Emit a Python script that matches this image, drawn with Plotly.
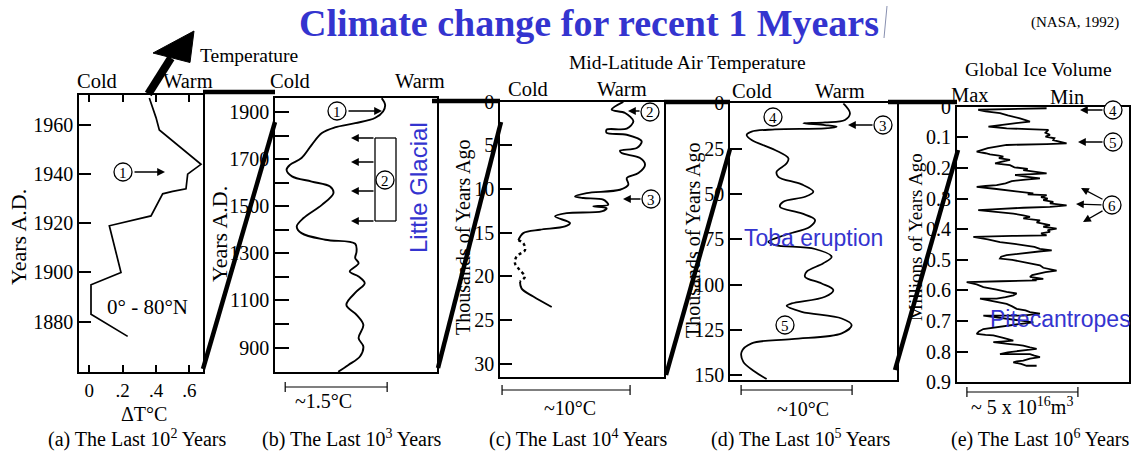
import plotly.graph_objects as go

W, H = 1140, 463

# ---------------- data ----------------
# (a) last 100 years : Delta T (deg C) vs year AD
a_year = [1874, 1883, 1895, 1900, 1919, 1923, 1932, 1933, 1934, 1940, 1941, 1944, 1958, 1963, 1971]
a_dT = [0.23, 0.01, 0.01, 0.19, 0.12, 0.37, 0.44, 0.50, 0.58, 0.59, 0.61, 0.67, 0.42, 0.40, 0.36]
a_ticks = [0, 0.2, 0.4, 0.6]
a_ticktext = ["0", ".2", ".4", ".6"]
a_years_ticks = [1880, 1900, 1920, 1940, 1960]

# (b) last 1000 years : relative temperature (deg C) vs year AD
b_year = [1959, 1931, 1903, 1875, 1853, 1835, 1811, 1761, 1705, 1676, 1655, 1627, 1605, 1584,
          1556, 1506, 1450, 1414, 1386, 1358, 1341, 1308, 1280, 1258, 1223, 1202, 1173, 1138,
          1081, 1039, 996, 940, 904, 862, 826, 797]
b_T = [1.57, 1.62, 1.59, 1.47, 1.18, 0.88, 0.69, 0.54, 0.39, 0.22, 0.17, 0.25, 0.54, 0.81,
       0.86, 0.69, 0.42, 0.32, 0.39, 0.74, 1.18, 1.20, 1.18, 1.23, 1.10, 1.23, 1.32, 1.20,
       1.05, 1.20, 1.30, 1.23, 1.30, 1.25, 1.08, 0.93]
b_year_ticks = list(range(900, 2000, 100))
b_scale = 1.5

# (c) last 10^4 (~30 000) years : relative temperature vs thousands of years ago
c_ky = [0.03, 0.91, 1.29, 2.25, 3.09, 3.2, 3.58, 3.78, 4.54, 5.30, 5.61, 5.88, 6.45, 7.21, 8.17,
        8.74, 9.50, 10.08, 10.46, 10.84, 11.03, 11.22, 11.79, 11.98, 12.18, 12.56, 12.75, 13.13,
        13.89, 14.28, 14.66, 15.04, 15.84]
c_T = [9.63, 8.72, 9.77, 10.42, 9.90, 8.33, 8.33, 9.90, 11.07, 10.68, 9.37, 9.50, 10.94, 11.33, 10.81,
       9.90, 10.03, 9.37, 6.77, 5.86, 6.51, 8.07, 8.46, 7.29, 8.33, 7.94, 5.21, 4.30,
       5.47, 5.08, 3.12, 1.82, 1.43]
c_dot_ky = [15.84, 16.2, 17.0, 17.7, 18.5, 19.3, 20.0, 20.6]
c_dot_T = [1.43, 1.82, 1.95, 1.30, 1.17, 1.56, 1.95, 1.56]
c_old_ky = [20.6, 21.4, 22.3, 23.5]
c_old_T = [1.56, 1.69, 2.60, 4.04]
c_ticks = [0, 5, 10, 15, 20, 25, 30]
c_scale = 10

# (d) last 10^5 (~150 000) years
d_ky = [0.0, 5.5, 9.2, 10.5, 11.0, 12.0, 12.9, 13.8, 14.4, 15.6, 17.5, 20.2, 25.7, 30.3, 33.1, 37.7,
        40.5, 44.7, 48.7, 51.5, 54.2, 57.0, 60.7, 64.3, 68.0, 72.6, 76.3, 78.1, 80.3, 84.6, 88.2,
        92.8, 95.6, 99.3, 102.9, 106.6, 110.3, 111.6, 114.9, 118.6, 122.2, 126.8, 130.0, 132.3,
        136.9, 142.5, 147.9, 152.0]
d_T = [10.21, 10.81, 10.36, 8.56, 6.61, 8.56, 9.61, 8.56, 4.05, 1.95, 1.50, 1.95, 4.05, 5.26, 5.11, 4.20,
       4.35, 6.46, 7.51, 6.76, 4.80, 4.50, 6.46, 7.66, 7.21, 4.95, 3.45, 4.05, 7.66, 9.16, 8.41,
       6.91, 6.76, 8.26, 9.31, 8.56, 5.56, 5.11, 6.46, 10.06, 10.96, 10.06, 5.56, 1.95,
       1.05, 1.20, 2.25, 3.30]
d_ticks = [0, 25, 50, 75, 100, 125, 150]
d_scale = 10

# (e) last 10^6 years : global ice volume (10^16 m^3 below maximum) vs millions of years ago
e_my = [0.005, 0.008, 0.010, 0.015, 0.021, 0.028, 0.033, 0.038, 0.044, 0.049, 0.055, 0.060, 0.065,
        0.068, 0.071, 0.073, 0.076, 0.085, 0.092, 0.098, 0.103, 0.109, 0.114, 0.120, 0.122, 0.124,
        0.125, 0.135, 0.147, 0.152, 0.156, 0.160, 0.163, 0.168, 0.174, 0.180, 0.185, 0.188, 0.191,
        0.198, 0.203, 0.207, 0.212, 0.218, 0.220, 0.223, 0.228, 0.234, 0.238, 0.243, 0.250, 0.256,
        0.259, 0.262, 0.268, 0.273, 0.278, 0.283, 0.286, 0.289, 0.295, 0.300, 0.305, 0.311, 0.316,
        0.322, 0.325, 0.327, 0.330, 0.332, 0.335, 0.338, 0.343, 0.349, 0.355, 0.360, 0.365, 0.371,
        0.378, 0.387, 0.392, 0.398, 0.403, 0.409, 0.414, 0.420, 0.422, 0.425, 0.433, 0.442, 0.448,
        0.453, 0.458, 0.464, 0.469, 0.472, 0.475, 0.480, 0.485, 0.490, 0.496, 0.500, 0.507, 0.512,
        0.518, 0.526, 0.535, 0.540, 0.545, 0.550, 0.556, 0.559, 0.562, 0.565, 0.567, 0.570, 0.573,
        0.580, 0.589, 0.597, 0.605, 0.610, 0.616, 0.622, 0.627, 0.627, 0.635, 0.644, 0.652, 0.660,
        0.665, 0.671, 0.676, 0.679, 0.682, 0.682, 0.688, 0.693, 0.699, 0.704, 0.710, 0.715, 0.720,
        0.726, 0.734, 0.742, 0.745, 0.747, 0.755, 0.764, 0.767, 0.769, 0.775, 0.780, 0.786, 0.791,
        0.794, 0.797, 0.802, 0.808, 0.808, 0.813, 0.818, 0.823, 0.829, 0.832, 0.835, 0.840, 0.846,
        0.846]
e_vol = [4.05, 2.8, 0.97, 1.3, 1.95, 2.3, 2.6, 2.85, 3.1, 3.30, 2.5, 1.9, 1.43,
         1.9, 2.25, 3.2, 4.13, 4.0, 4.20, 4.0, 4.4, 4.35, 4.6, 4.95, 4.05, 3.0,
         2.25, 1.4, 0.90, 1.3, 1.50, 1.9, 2.10, 1.9, 2.40, 2.0, 1.73, 2.1, 2.40,
         2.6, 3.2, 3.00, 3.6, 4.05, 3.4, 2.63, 3.1, 3.75, 3.1, 2.48, 2.2, 1.80,
         1.3, 0.90, 1.7, 2.25, 2.9, 3.45, 3.2, 4.05, 3.8, 4.1, 3.9, 4.35, 4.2,
         4.95, 4.6, 4.20, 3.0, 2.25, 1.6, 0.97, 1.8, 2.55, 3.0, 3.30, 3.0, 3.75,
         3.6, 4.20, 3.9, 4.50, 4.1, 4.20, 3.8, 4.05, 2.5, 0.75, 1.4, 1.95, 2.6,
         3.15, 3.5, 3.75, 4.28, 3.8, 3.45, 2.8, 2.25, 2.0, 1.95, 2.5, 3.00, 3.3,
         3.75, 3.9, 4.50, 4.0, 3.75, 3.4, 3.30, 3.7, 3.90, 3.4, 3.60, 2.0, 0.45,
         0.9, 1.20, 1.8, 2.25, 2.7, 2.55, 2.2, 1.80, 1.05, 1.7, 2.25, 2.5, 2.70,
         3.1, 3.30, 3.75, 3.4, 3.00, 1.20, 1.8, 2.40, 2.9, 3.45, 2.8, 2.25, 1.7,
         1.20, 1.0, 0.90, 1.3, 1.65, 2.1, 2.55, 2.0, 1.65, 2.4, 3.00, 3.3, 3.60,
         3.2, 2.85, 2.3, 1.95, 3.30, 3.5, 3.75, 3.3, 3.00, 2.7, 2.55, 2.9, 3.15,
         3.60]
e_ticks = [0, 0.1, 0.2, 0.3, 0.4, 0.5, 0.6, 0.7, 0.8, 0.9]
e_scale = 5

# ---------------- helpers ----------------
def X(p):
    return p / W


def Y(p):
    return 1 - p / H


SERIF = "Liberation Serif"
SANS = "Liberation Sans"
BLUE = "#3434cf"

annotations = []
shapes = []


def txt(s, x, y, size=20, color="black", family=SERIF, angle=0, xanchor="center"):
    annotations.append(dict(text=s, x=X(x), y=Y(y), xref="paper", yref="paper", showarrow=False,
                            xanchor=xanchor, yanchor="middle", textangle=angle,
                            font=dict(family=family, size=size, color=color)))


def arrow(hx, hy, tx, ty, w=1.3):
    annotations.append(dict(text="", x=X(hx), y=Y(hy), xref="paper", yref="paper",
                            ax=tx - hx, ay=ty - hy, axref="pixel", ayref="pixel",
                            showarrow=True, arrowhead=2, arrowsize=1.2, arrowwidth=w,
                            arrowcolor="black"))


def circ(n, cx, cy, r=9):
    shapes.append(dict(type="circle", xref="paper", yref="paper", x0=X(cx - r), x1=X(cx + r),
                       y0=Y(cy + r), y1=Y(cy - r), line=dict(color="black", width=1.3),
                       fillcolor="white", layer="above"))
    txt(str(n), cx, cy + 0.5, size=15)


def seg(x0, y0, x1, y1, w=1.3, color="black"):
    shapes.append(dict(type="line", xref="paper", yref="paper", x0=X(x0), y0=Y(y0),
                       x1=X(x1), y1=Y(y1), line=dict(color=color, width=w)))


def scalebar(axis, x0, length, ypix):
    shapes.append(dict(type="line", xref=axis, yref="paper", x0=x0, x1=x0 + length,
                       y0=Y(ypix), y1=Y(ypix), line=dict(color="black", width=1.2)))
    for xx in (x0, x0 + length):
        shapes.append(dict(type="line", xref=axis, yref="paper", x0=xx, x1=xx,
                           y0=Y(ypix - 5), y1=Y(ypix + 5), line=dict(color="black", width=1.2)))


# ---------------- figure ----------------
fig = go.Figure()
lw = 1.9
fig.add_trace(go.Scatter(x=a_dT, y=a_year, xaxis="x", yaxis="y", mode="lines",
                         line=dict(color="black", width=1.7)))
fig.add_trace(go.Scatter(x=b_T, y=b_year, xaxis="x2", yaxis="y2", mode="lines",
                         line=dict(color="black", width=lw, shape="spline", smoothing=1.0)))
fig.add_trace(go.Scatter(x=c_T, y=c_ky, xaxis="x3", yaxis="y3", mode="lines",
                         line=dict(color="black", width=lw, shape="spline", smoothing=0.9)))
fig.add_trace(go.Scatter(x=c_dot_T, y=c_dot_ky, xaxis="x3", yaxis="y3", mode="lines",
                         line=dict(color="black", width=2.4, dash="dot", shape="spline")))
fig.add_trace(go.Scatter(x=c_old_T, y=c_old_ky, xaxis="x3", yaxis="y3", mode="lines",
                         line=dict(color="black", width=lw, shape="spline")))
fig.add_trace(go.Scatter(x=d_T, y=d_ky, xaxis="x4", yaxis="y4", mode="lines",
                         line=dict(color="black", width=1.8, shape="spline", smoothing=1.0)))
fig.add_trace(go.Scatter(x=e_vol, y=e_my, xaxis="x5", yaxis="y5", mode="lines",
                         line=dict(color="black", width=1.8)))

tickfont = dict(family=SERIF, size=20, color="black")


def xax(dom, rng, **kw):
    d = dict(domain=[X(dom[0]), X(dom[1])], range=rng, showgrid=False, zeroline=False,
             showline=True, linecolor="black", linewidth=1.5, mirror=True, automargin=False,
             ticks="", showticklabels=False, fixedrange=True, tickfont=tickfont)
    d.update(kw)
    return d


def yax(dom, rng, tickvals, ticktext=None, ticklen=12, **kw):
    d = dict(domain=[Y(dom[1]), Y(dom[0])], range=rng, showgrid=False, zeroline=False,
             showline=True, linecolor="black", linewidth=1.5, mirror=True, automargin=False,
             ticks="inside", ticklen=ticklen, tickwidth=1.5, tickcolor="black",
             tickvals=tickvals, ticktext=ticktext if ticktext else [str(v) for v in tickvals],
             tickfont=tickfont, fixedrange=True)
    d.update(kw)
    return d


b_ticktext = [str(v) if (v // 100) % 2 == 1 else "" for v in b_year_ticks]
e_ticktext = ["0"] + [f"{v:.1f}" for v in e_ticks[1:]]

fig.update_layout(
    width=W, height=H, autosize=False, margin=dict(l=0, r=0, t=0, b=0, pad=0, autoexpand=False),
    paper_bgcolor="white", plot_bgcolor="white", showlegend=False,
    xaxis=xax((79, 203), [-0.062, 0.682], anchor="y", ticks="inside", ticklen=7, tickwidth=1.5,
              tickcolor="black", mirror="ticks", tickvals=a_ticks, ticktext=a_ticktext,
              showticklabels=True, tickfont=dict(family=SERIF, size=19, color="black")),
    yaxis=yax((95, 372), [1859.5, 1972.2], a_years_ticks, anchor="x"),
    xaxis2=xax((275, 436.7), [0, 2.379], anchor="y2"),
    yaxis2=yax((98, 372), [796, 1960], b_year_ticks, b_ticktext, ticklen=14, anchor="x2"),
    xaxis3=xax((500, 664), [0, 12.81], anchor="y3"),
    yaxis3=yax((101.7, 377.3), [31.55, 0], c_ticks, anchor="x3"),
    xaxis4=xax((730, 896.7), [0, 15.02], anchor="y4"),
    yaxis4=yax((103.3, 380), [152.5, 0], d_ticks, anchor="x4"),
    xaxis5=xax((956.7, 1129.3), [0, 7.775], anchor="y5"),
    yaxis5=yax((106.7, 382.3), [0.9, 0], e_ticks, e_ticktext, anchor="x5"),
)

# ---- titles and texts ----
txt("<b>Climate change for recent 1 Myears</b>", 589, 23, size=38, color=BLUE)
txt("(NASA, 1992)", 1075, 22, size=15)
txt("Temperature", 198, 55, size=19.5, xanchor="left")
txt("Mid-Latitude Air Temperature", 687, 62, size=19.5)
txt("Global Ice Volume", 1038, 69, size=19.5)

for s, x, y in [("Cold", 97, 81), ("Warm", 188, 81), ("Cold", 290, 81), ("Warm", 420, 81),
                ("Cold", 528, 89), ("Warm", 622, 89), ("Cold", 752, 91), ("Warm", 840, 91),
                ("Max", 970, 95), ("Min", 1067, 97)]:
    txt(s, x, y, size=20.5)

txt("Years A.D.", 18, 237, size=22, angle=-90)
txt("Years A.D.", 219, 234, size=22, angle=-90)
txt("Thousands of Years Ago", 463, 237, size=20, angle=-90)
txt("Thousands of Years Ago", 693, 240, size=20, angle=-90)
txt("Millions of Years Ago", 915, 237, size=19, angle=-90)

txt("0° - 80°N", 147, 307, size=21)
txt("ΔT°C", 144, 414, size=20)
txt("~1.5°C", 323, 401)
txt("~10°C", 570, 408)
txt("~10°C", 803, 409)
txt("~ 5 x 10<sup>16</sup>m<sup>3</sup>", 1022, 406)

for s, x in [("(a) The Last 10<sup>2</sup> Years", 137), ("(b) The Last 10<sup>3</sup> Years", 352),
             ("(c) The Last 10<sup>4</sup> Years", 578), ("(d) The Last 10<sup>5</sup> Years", 801),
             ("(e) The Last 10<sup>6</sup> Years", 1040)]:
    txt(s, x, 438, size=20)

txt("Little Glacial", 418, 187, size=24, color=BLUE, family=SANS, angle=-90)
txt("Toba eruption", 813, 238, size=23, color=BLUE, family=SANS)
txt("Pitecantropes", 1060, 319, size=23, color=BLUE, family=SANS)

# ---- scale bars (in data units) ----
scalebar("x2", 0.15, b_scale, 387)
scalebar("x3", 0.16, c_scale, 390)
scalebar("x4", 1.0, d_scale, 390)
scalebar("x5", 0.46, e_scale, 392)

# ---- connectors between panels ----
for (x0, y0, x1, y1) in [(203, 92, 275, 92), (432, 101, 500, 101), (664, 102, 730, 102),
                         (888, 102, 957, 102)]:
    seg(x0, y0, x1, y1, w=4.5)
for (x0, y0, x1, y1) in [(203, 369, 275, 122), (438, 368, 501, 122), (666, 375, 730, 149),
                         (895, 370, 958, 150)]:
    seg(x0, y0, x1, y1, w=4.5)

# big arrow top-left
seg(148.3, 94, 171, 58, w=8)
shapes.append(dict(type="path", xref="paper", yref="paper",
                   path=f"M {X(194)},{Y(31)} L {X(153)},{Y(53)} L {X(190)},{Y(62.5)} Z",
                   fillcolor="black", line=dict(color="black", width=1)))
# small stray mark near title
seg(887, 6, 884, 38, w=1, color="#8890b0")

# ---- numbered markers ----
circ(1, 123, 172)
arrow(165, 172, 133, 172)
circ(1, 337, 111)
arrow(382, 111, 347, 111)
# bracket (2) in panel b
seg(375, 138, 396, 138)
seg(375, 221, 396, 221)
seg(375, 138, 375, 221)
seg(396, 138, 396, 221)
for yy in (138, 162, 191, 221):
    arrow(351, yy, 375, yy)
circ(2, 385, 180)
# panel c
circ(2, 650, 112)
arrow(628, 111, 641, 111)
circ(3, 651, 199)
arrow(623, 199, 642, 199)
# panel d
circ(4, 773, 117)
circ(3, 883, 125)
arrow(848, 125, 874, 125)
circ(5, 785, 325)
# panel e
circ(4, 1113, 110)
arrow(1080, 110, 1104, 110)
circ(5, 1113, 142)
arrow(1078, 142, 1104, 142)
circ(6, 1112, 205)
arrow(1081, 188, 1104, 200)
arrow(1076, 204, 1103, 205)
arrow(1083, 222, 1104, 210)

fig.update_layout(annotations=annotations, shapes=shapes)
fig.write_html("out.html")
